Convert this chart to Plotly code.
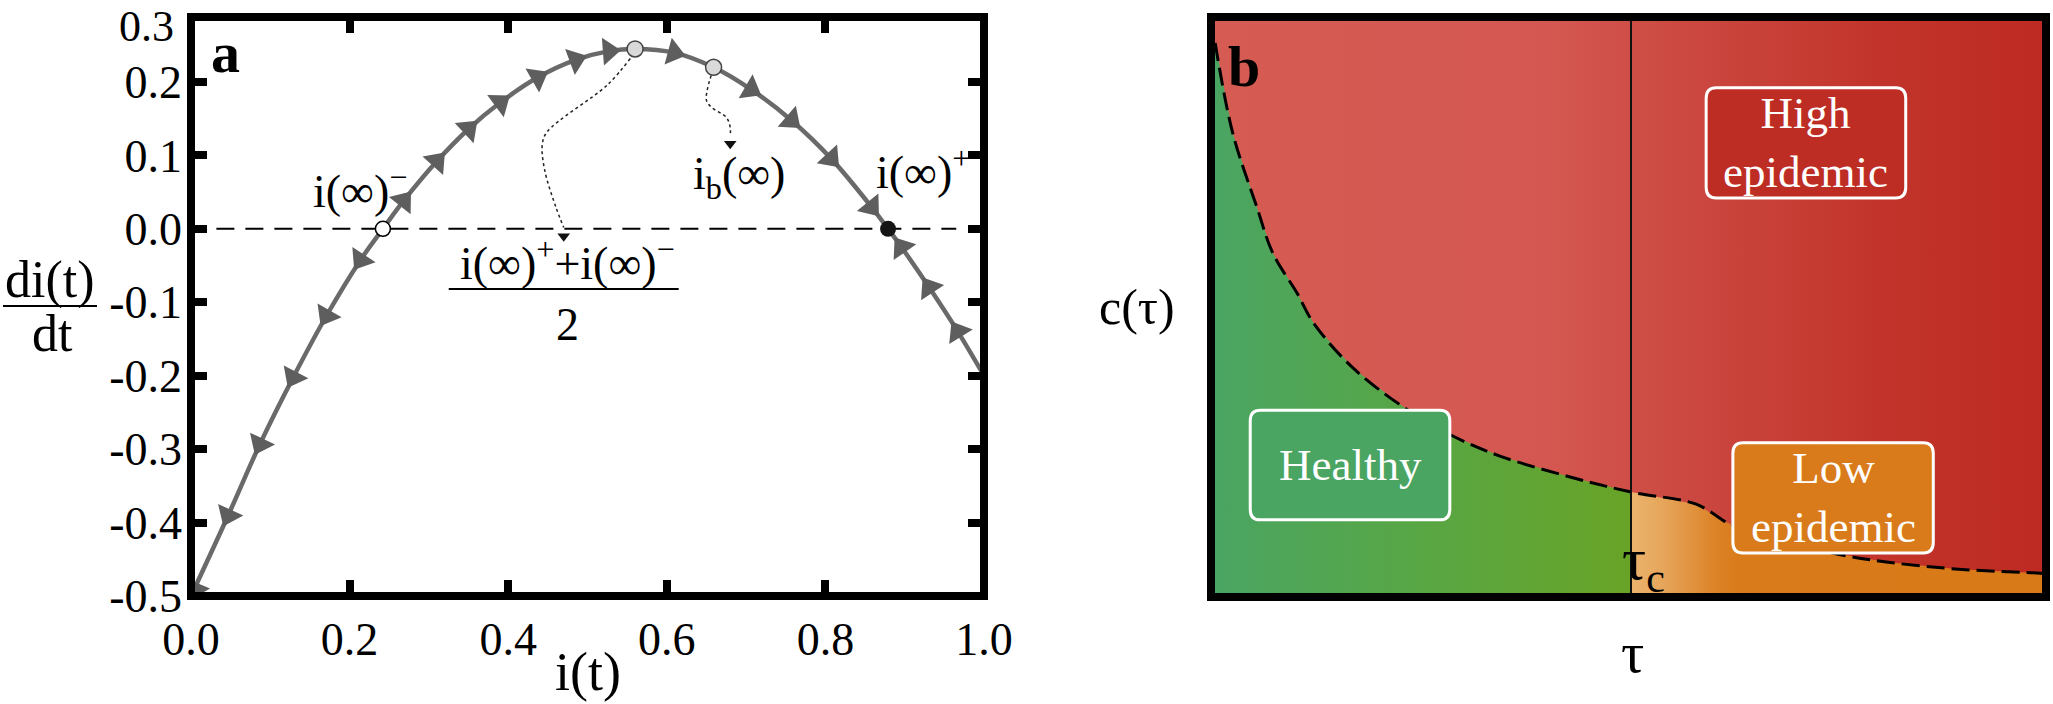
import math
import plotly.graph_objects as go

# ---- panel a : di/dt against i ----
i_curve = [0.0, 0.047, 0.087, 0.129, 0.171, 0.214, 0.242, 0.268, 0.31, 0.35, 0.39, 0.437, 0.485,
           0.527, 0.56, 0.609, 0.659, 0.706, 0.757, 0.807, 0.858, 0.879, 0.896, 0.931, 0.967, 1.0]
di_curve = [-0.5, -0.39, -0.293, -0.202, -0.118, -0.042, 0.0, 0.038, 0.092, 0.136, 0.172, 0.206, 0.23,
            0.242, 0.245, 0.24, 0.22, 0.19, 0.148, 0.096, 0.03, 0.0, -0.025, -0.08, -0.14, -0.2]

# arrow heads, listed in the direction of the flow (first point = where the flow starts)
left_arrow_i = [0.242, 0.214, 0.171, 0.129, 0.087, 0.047, 0.005]
left_arrow_di = [0.0, -0.042, -0.118, -0.202, -0.293, -0.39, -0.49]
mid_arrow_i = [0.242, 0.268, 0.31, 0.35, 0.39, 0.437, 0.485, 0.527, 0.609, 0.706, 0.757, 0.807, 0.858,
               0.879]
mid_arrow_di = [0.0, 0.038, 0.092, 0.136, 0.172, 0.206, 0.23, 0.242, 0.24, 0.19, 0.148, 0.096, 0.03,
                0.0]
right_arrow_i = [1.0, 0.967, 0.931, 0.896, 0.879]
right_arrow_di = [-0.2, -0.14, -0.08, -0.025, 0.0]

i_minus = (0.242, 0.0)
i_plus = (0.879, 0.0)
i_half = (0.56, 0.245)
i_b = (0.659, 0.22)

dot1_i = [0.554, 0.525, 0.449, 0.443, 0.446, 0.46, 0.47]
dot1_di = [0.232, 0.196, 0.132, 0.115, 0.08, 0.03, 0.002]
dot2_i = [0.656, 0.65, 0.657, 0.675, 0.68, 0.68]
dot2_di = [0.209, 0.175, 0.165, 0.152, 0.138, 0.128]

x_ticks = [0.0, 0.2, 0.4, 0.6, 0.8, 1.0]
y_ticks = [-0.5, -0.4, -0.3, -0.2, -0.1, 0.0, 0.1, 0.2]

# ---- panel b : phase diagram ----
tau_c = 0.503
bound_u = [0.005, 0.026, 0.055, 0.074, 0.103, 0.123, 0.170, 0.234, 0.289, 0.346, 0.430, 0.503,
           0.581, 0.617, 0.625, 0.744, 0.811, 0.895, 0.993, 1.0]
bound_v = [0.955, 0.80, 0.672, 0.593, 0.524, 0.472, 0.395, 0.324, 0.278, 0.243, 0.207, 0.181,
           0.160, 0.129, 0.124, 0.076, 0.060, 0.048, 0.041, 0.040]

W, H = 2053, 704
SERIF = "Liberation Serif"
GRAY = "#6a6a6a"
ARROW = "#5e5e5e"

# panel a plot box in pixels
AX_L, AX_R, AX_T, AX_B = 191, 984, 17, 596
Y_RANGE = [-0.5, 0.2885]


def px(x):
    return x / W


def py(y):
    return 1 - y / H


def arrow_angles(xs, ys):
    # screen-space heading of the flow at each arrow (skip the first, starting point)
    sx = AX_R - AX_L
    sy = (AX_B - AX_T) / (Y_RANGE[1] - Y_RANGE[0])
    out = []
    for n in range(1, len(xs) - 1):
        dx = (xs[n + 1] - xs[n - 1]) * sx
        dy = (ys[n + 1] - ys[n - 1]) * sy
        out.append(math.degrees(math.atan2(dx, dy)))
    return out


fig = go.Figure()

# zero line
fig.add_trace(go.Scatter(x=[0.032, 0.965], y=[0, 0], mode="lines",
                         line=dict(color="black", width=2, dash="18px,11px"),
                         xaxis="x", yaxis="y", hoverinfo="skip"))
# the curve
fig.add_trace(go.Scatter(x=i_curve, y=di_curve, mode="lines", line_shape="spline",
                         line=dict(color=GRAY, width=4.5), xaxis="x", yaxis="y"))
# arrows
for ax_i, ax_d in [(left_arrow_i + [0.0], left_arrow_di + [-0.51]), (mid_arrow_i, mid_arrow_di),
                   (right_arrow_i, right_arrow_di)]:
    ang = arrow_angles(ax_i, ax_d)
    fig.add_trace(go.Scatter(
        x=ax_i[1:len(ang) + 1], y=ax_d[1:len(ang) + 1], mode="markers", xaxis="x", yaxis="y",
        marker=dict(symbol="triangle-up", angle=ang, color=ARROW, size=24, line=dict(width=0))))
# dotted pointers
for d_i, d_d in [(dot1_i, dot1_di), (dot2_i, dot2_di)]:
    fig.add_trace(go.Scatter(x=d_i, y=d_d, mode="lines", line_shape="spline",
                             line=dict(color="#222222", width=1.5, dash="dot"),
                             xaxis="x", yaxis="y"))
    fig.add_trace(go.Scatter(x=[d_i[-1]], y=[d_d[-1] - 0.012], mode="markers",
                             marker=dict(symbol="triangle-down", size=11, color="#111111"),
                             xaxis="x", yaxis="y"))
# fixed points
fig.add_trace(go.Scatter(x=[i_minus[0]], y=[i_minus[1]], mode="markers", xaxis="x", yaxis="y",
                         marker=dict(size=15, color="white", line=dict(color="black", width=1.5))))
fig.add_trace(go.Scatter(x=[i_half[0], i_b[0]], y=[i_half[1], i_b[1]], mode="markers",
                         xaxis="x", yaxis="y",
                         marker=dict(size=16, color="#d9d9d9", line=dict(color="#444444", width=1.5))))
fig.add_trace(go.Scatter(x=[i_plus[0]], y=[i_plus[1]], mode="markers", xaxis="x", yaxis="y",
                         marker=dict(size=16, color="#151515")))

# ---- panel b regions ----
fig.add_trace(go.Scatter(
    x=[0, 0, 1, 1, 0], y=[0, 1, 1, 0, 0], mode="lines", fill="toself", line=dict(width=0),
    fillgradient=dict(type="horizontal", start=0, stop=1,
                      colorscale=[[0, "#d55b53"], [0.4, "#d45851"], [0.55, "#cc4a42"],
                                  [0.8, "#c2342b"], [1, "#bd2a21"]]),
    xaxis="x2", yaxis="y2"))

k = bound_u.index(tau_c)
green_x = [0, 0] + bound_u[:k + 1] + [tau_c, 0]
green_y = [0, bound_v[0]] + bound_v[:k + 1] + [0, 0]
fig.add_trace(go.Scatter(
    x=green_x, y=green_y, mode="lines", fill="toself", line=dict(width=0),
    fillgradient=dict(type="horizontal", start=0, stop=tau_c,
                      colorscale=[[0, "#4aa563"], [0.5, "#58a644"], [1, "#68a326"]]),
    xaxis="x2", yaxis="y2"))

orange_x = [tau_c] + bound_u[k:] + [1, tau_c]
orange_y = [0] + bound_v[k:] + [0, 0]
fig.add_trace(go.Scatter(
    x=orange_x, y=orange_y, mode="lines", fill="toself", line=dict(width=0),
    fillgradient=dict(type="horizontal", start=tau_c, stop=1,
                      colorscale=[[0, "#ebb46e"], [0.08, "#e6a55a"], [0.2, "#dc8428"],
                                  [0.26, "#d97b1a"], [1, "#d97a19"]]),
    xaxis="x2", yaxis="y2"))

fig.add_trace(go.Scatter(x=bound_u, y=bound_v, mode="lines", line_shape="spline",
                         line=dict(color="black", width=3, dash="18px,7px"),
                         xaxis="x2", yaxis="y2"))


def rounded(u0, u1, v0, v1, rx=0.012, ry=0.018):
    return (f"M {u0 + rx},{v0} L {u1 - rx},{v0} Q {u1},{v0} {u1},{v0 + ry} "
            f"L {u1},{v1 - ry} Q {u1},{v1} {u1 - rx},{v1} L {u0 + rx},{v1} "
            f"Q {u0},{v1} {u0},{v1 - ry} L {u0},{v0 + ry} Q {u0},{v0} {u0 + rx},{v0} Z")


shapes = [
    dict(type="rect", xref="x domain", yref="y domain", x0=0, x1=1, y0=0, y1=1,
         line=dict(color="black", width=8), layer="above"),
    dict(type="line", xref="x2", yref="y2", x0=tau_c, x1=tau_c, y0=0, y1=1,
         line=dict(color="#111111", width=2), layer="above"),
    dict(type="path", xref="x2", yref="y2", path=rounded(0.593, 0.832, 0.688, 0.878),
         fillcolor="#be2d24", line=dict(color="white", width=3), layer="above"),
    dict(type="path", xref="x2", yref="y2", path=rounded(0.047, 0.286, 0.133, 0.322),
         fillcolor="#4aa462", line=dict(color="white", width=3), layer="above"),
    dict(type="path", xref="x2", yref="y2", path=rounded(0.625, 0.865, 0.076, 0.266),
         fillcolor="#d97b1a", line=dict(color="white", width=3), layer="above"),
    dict(type="rect", xref="x2 domain", yref="y2 domain", x0=0, x1=1, y0=0, y1=1,
         line=dict(color="black", width=8), layer="above"),
    # fraction bars
    dict(type="line", xref="paper", yref="paper", x0=px(3), x1=px(97), y0=py(306), y1=py(306),
         line=dict(color="black", width=2)),
    dict(type="line", xref="x", yref="y", x0=0.325, x1=0.615, y0=-0.082, y1=-0.082,
         line=dict(color="black", width=2)),
]

f_a = dict(family=SERIF, size=46, color="black")
f_box = dict(family=SERIF, size=45, color="white")


def note(x, y, text, font, ref="paper", xanchor="center", yanchor="middle"):
    if ref == "paper":
        return dict(xref="paper", yref="paper", x=px(x), y=py(y), text=text, showarrow=False,
                    xanchor=xanchor, yanchor=yanchor, font=font)
    return dict(xref="x" + ref, yref="y" + ref, x=x, y=y, text=text, showarrow=False,
                xanchor=xanchor, yanchor=yanchor, font=font)


annotations = [
    note(0.043, 0.24, "<b>a</b>", dict(family=SERIF, size=58, color="black"), ref=""),
    note(0.275, 0.055, "i(∞)<sup>−</sup>", f_a, ref="", xanchor="right"),
    note(0.985, 0.082, "i(∞)<sup>+</sup>", f_a, ref="", xanchor="right"),
    note(0.63, 0.07, "i<sub>b</sub>(∞)", f_a, ref="", xanchor="left"),
    note(0.475, -0.042, "i(∞)<sup>+</sup>+i(∞)<sup>−</sup>", f_a, ref=""),
    note(0.475, -0.13, "2", f_a, ref=""),
    note(176, 0, "0.3", dict(family=SERIF, size=44, color="black"), xanchor="right",
         yanchor="top"),
    note(50, 280, "di(t)", dict(family=SERIF, size=52, color="black")),
    note(52, 334, "dt", dict(family=SERIF, size=52, color="black")),
    note(588, 672, "i(t)", dict(family=SERIF, size=54, color="black")),
    # panel b
    note(0.04, 0.915, "<b>b</b>", dict(family=SERIF, size=58, color="black"), ref="2"),
    note(0.7125, 0.783, "High<br>epidemic", f_box, ref="2"),
    note(0.1665, 0.228, "Healthy", f_box, ref="2"),
    note(0.745, 0.172, "Low<br>epidemic", f_box, ref="2"),
    note(tau_c - 0.013, 0.058, "τ<sub>c</sub>", dict(family=SERIF, size=60, color="black"),
         ref="2", xanchor="left"),
    note(1137, 307, "c(τ)", dict(family=SERIF, size=50, color="black")),
    note(1632, 652, "τ", dict(family=SERIF, size=58, color="black")),
]

fig.update_layout(
    width=W, height=H, margin=dict(l=0, r=0, t=0, b=0, autoexpand=False),
    paper_bgcolor="white", plot_bgcolor="white", showlegend=False,
    font=dict(family=SERIF, color="black"),
    xaxis=dict(domain=[px(AX_L), px(AX_R)], range=[0, 1], tickvals=x_ticks,
               ticktext=[f"{v:.1f}" for v in x_ticks], ticks="inside", ticklen=16,
               tickwidth=8, tickcolor="black", mirror="ticks", showline=False,
               showgrid=False, zeroline=False, tickfont=dict(size=46),
               ticklabelstandoff=12, anchor="y", automargin=False),
    yaxis=dict(domain=[py(AX_B), py(AX_T)], range=Y_RANGE, tickvals=y_ticks,
               ticktext=[f"{v:.1f}" for v in y_ticks], ticks="inside",
               ticklen=16, tickwidth=8, tickcolor="black", mirror="ticks", showline=False,
               showgrid=False, zeroline=False, tickfont=dict(size=46),
               ticklabelstandoff=8, anchor="x", automargin=False),
    xaxis2=dict(domain=[px(1211), px(2046)], range=[0, 1], showticklabels=False,
                ticks="", showgrid=False, zeroline=False, showline=False, anchor="y2",
                automargin=False),
    yaxis2=dict(domain=[py(597), py(17)], range=[0, 1], showticklabels=False,
                ticks="", showgrid=False, zeroline=False, showline=False, anchor="x2",
                automargin=False),
    shapes=shapes, annotations=annotations,
)

fig.write_html("out.html", config={"displayModeBar": False},
               post_script="document.body.style.margin='0';")
